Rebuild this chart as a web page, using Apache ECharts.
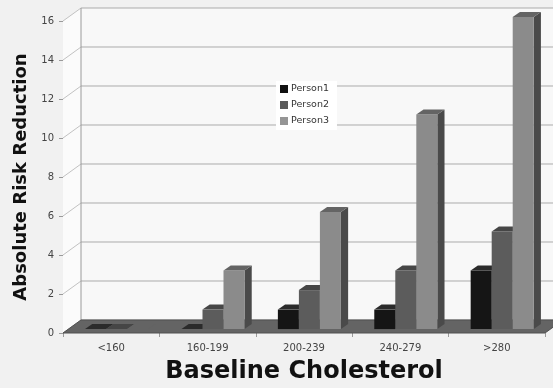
<!DOCTYPE html>
<html>
<head>
<meta charset="utf-8">
<script src="https://cdn.jsdelivr.net/npm/echarts/dist/echarts.min.js"></script>
<style>
  html, body { margin: 0; padding: 0; background: #f1f1f1; }
  #chart { width: 553px; height: 388px; }
</style>
</head>
<body>
<div id="chart"></div>
<script>
// Absolute risk reduction by baseline cholesterol band
const categories = ['<160', '160-199', '200-239', '240-279', '>280'];
const person1 = [0, 0, 1, 1, 3];
const person2 = [0, 1, 2, 3, 5];
const person3 = [0, 3, 6, 11, 16];
const seriesNames = ['Person1', 'Person2', 'Person3'];
const yTicks = [0, 2, 4, 6, 8, 10, 12, 14, 16];

// pseudo-3D look: depth of the box in screen pixels
const DEPTH = [18, -13];
const BAR_FRONT = 0.3, BAR_BACK = 0.7;
const palette = [
  { front: '#151515', side: '#000000', top: '#2b2b2b', legend: '#111111' },
  { front: '#5c5c5c', side: '#383838', top: '#464646', legend: '#5a5a5a' },
  { front: '#8b8b8b', side: '#4a4a4a', top: '#646464', legend: '#959595' }
];
const FONT = 'DejaVu Sans';

function wallRenderer(params, api) {
  const cs = params.coordSys;
  const L = cs.x, R = cs.x + cs.width;
  const dx = DEPTH[0], dy = DEPTH[1];
  const yMin = api.coord([0, yTicks[0]])[1];
  const yMax = api.coord([0, yTicks[yTicks.length - 1]])[1];
  const kids = [];
  // back wall and left side wall
  kids.push({ type: 'polygon', shape: { points: [[L + dx, yMax + dy], [R + dx + 40, yMax + dy], [R + dx + 40, yMin + dy], [L + dx, yMin + dy]] },
    style: { fill: '#f8f8f8' } });
  kids.push({ type: 'polygon', shape: { points: [[L, yMax], [L + dx, yMax + dy], [L + dx, yMin + dy], [L, yMin]] },
    style: { fill: '#fbfbfb' } });
  // gridlines on both walls
  yTicks.forEach(function (t) {
    const y = api.coord([0, t])[1];
    kids.push({ type: 'line', shape: { x1: L + dx, y1: y + dy, x2: R + dx + 40, y2: y + dy },
      style: { stroke: '#ababab', lineWidth: 1 } });
    kids.push({ type: 'line', shape: { x1: L, y1: y, x2: L + dx, y2: y + dy },
      style: { stroke: '#c2c2c2', lineWidth: 1 } });
  });
  kids.push({ type: 'line', shape: { x1: L + dx, y1: yMax + dy, x2: L + dx, y2: yMin + dy },
    style: { stroke: '#9a9a9a', lineWidth: 1 } });
  // floor
  kids.push({ type: 'polygon', shape: { points: [[L, yMin], [L + dx, yMin + dy], [R + dx, yMin + dy], [R, yMin]] },
    style: { fill: '#646464', stroke: '#505050', lineWidth: 1 } });
  return { type: 'group', children: kids };
}

function barRenderer(s) {
  return function (params, api) {
    const ci = api.value(0), v = api.value(1);
    const base = api.coord([ci, 0]);
    const top = api.coord([ci, v]);
    const band = api.size([1, 0])[0];
    const bw = band * 0.218;
    const ox = DEPTH[0] * BAR_FRONT, oy = DEPTH[1] * BAR_FRONT;
    const dx = DEPTH[0] * (BAR_BACK - BAR_FRONT), dy = DEPTH[1] * (BAR_BACK - BAR_FRONT);
    const x0 = base[0] - 1.5 * bw + s * bw + ox;
    const x1 = x0 + bw;
    const yb = base[1] + oy;
    const yt = top[1] + oy;
    const c = palette[s];
    return {
      type: 'group',
      children: [
        { type: 'polygon', shape: { points: [[x1, yt], [x1 + dx, yt + dy], [x1 + dx, yb + dy], [x1, yb]] },
          style: { fill: c.side } },
        { type: 'polygon', shape: { points: [[x0, yt], [x1, yt], [x1, yb], [x0, yb]] },
          style: { fill: c.front } },
        { type: 'polygon', shape: { points: [[x0, yt], [x1, yt], [x1 + dx, yt + dy], [x0 + dx, yt + dy]] },
          style: { fill: c.top } }
      ]
    };
  };
}

const seriesData = [person1, person2, person3];

const chart = echarts.init(document.getElementById('chart'), null, { renderer: 'canvas' });
chart.setOption({
  backgroundColor: '#f1f1f1',
  animation: false,
  grid: { left: 63, right: 8, top: 21, bottom: 55, containLabel: false, outerBoundsMode: 'none' },
  legend: {
    orient: 'vertical', left: 276, top: 81,
    data: seriesNames,
    icon: 'rect', itemWidth: 8, itemHeight: 8, itemGap: 6,
    backgroundColor: '#ffffff', padding: [3, 8, 4, 4],
    textStyle: { fontFamily: FONT, fontSize: 9.5, color: '#333', padding: [0, 0, 0, -2] }
  },
  xAxis: {
    type: 'category', data: categories,
    name: 'Baseline Cholesterol', nameLocation: 'middle', nameGap: 27,
    nameTextStyle: { fontFamily: FONT, fontWeight: 'bold', fontSize: 24, color: '#111' },
    axisLine: { show: false },
    axisTick: { show: true, length: 4, lineStyle: { color: '#9a9a9a' } },
    axisLabel: { fontFamily: FONT, fontSize: 10, color: '#444', margin: 10 },
    splitLine: { show: false }
  },
  yAxis: {
    type: 'value', min: 0, max: 16, interval: 2,
    name: 'Absolute Risk Reduction', nameLocation: 'middle', nameGap: 30, nameRotate: 90,
    nameTextStyle: { fontFamily: FONT, fontWeight: 'bold', fontSize: 18, color: '#111' },
    axisLine: { show: true, lineStyle: { color: '#9a9a9a' } },
    axisTick: { show: true, length: 4, lineStyle: { color: '#9a9a9a' } },
    axisLabel: { fontFamily: FONT, fontSize: 10, color: '#444', margin: 9 },
    splitLine: { show: false }
  },
  series: [
    { type: 'custom', name: 'walls', z: 1, silent: true, renderItem: wallRenderer, data: [[0, 0]], encode: { x: 0, y: 1 } }
  ].concat(seriesNames.map(function (name, s) {
    return {
      type: 'custom', name: name, z: 2,
      itemStyle: { color: palette[s].legend },
      renderItem: barRenderer(s),
      encode: { x: 0, y: 1 },
      data: seriesData[s].map(function (v, i) { return [i, v]; })
    };
  }))
});
</script>
</body>
</html>
